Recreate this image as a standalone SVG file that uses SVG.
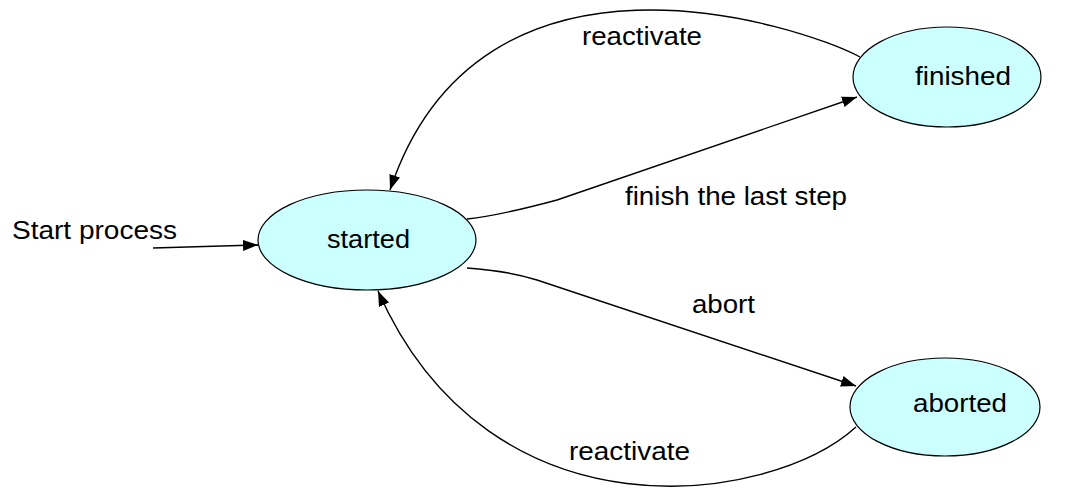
<svg xmlns="http://www.w3.org/2000/svg" width="1074" height="492" viewBox="0 0 1074 492">
<style>
.node{fill:#CCFFFF;stroke:#000;stroke-width:1.2}
.lbl{font-family:"Liberation Sans",Arial,sans-serif;font-size:25px;fill:#000}
.edge{fill:none;stroke:#000;stroke-width:1.4}
</style>
<defs>
<marker id="arr" markerUnits="userSpaceOnUse" markerWidth="16" markerHeight="12" refX="15" refY="5.5" orient="auto">
<path d="M0,0 L15,5.5 L0,11 z" fill="#000"/>
</marker>
</defs>
<rect width="1074" height="492" fill="#fff"/>
<g id="connectors">
<path class="edge" d="M153,248 L258,245" marker-end="url(#arr)"/>
<path class="edge" d="M467,219 C495,216 520,210 557,200 L857,97" marker-end="url(#arr)"/>
<path class="edge" d="M860,57 C800,25 480,-80 390,190" marker-end="url(#arr)"/>
<path class="edge" d="M467,268 C495,270 515,273 537,280 L856,386" marker-end="url(#arr)"/>
<path class="edge" d="M856,427 C770,505 490,545 378,291" marker-end="url(#arr)"/>
<text class="lbl" x="12" y="239" textLength="165" lengthAdjust="spacingAndGlyphs">Start process</text>
<text class="lbl" x="625" y="205" textLength="222" lengthAdjust="spacingAndGlyphs">finish the last step</text>
<text class="lbl" x="582" y="45" textLength="120" lengthAdjust="spacingAndGlyphs">reactivate</text>
<text class="lbl" x="692" y="313" textLength="63" lengthAdjust="spacingAndGlyphs">abort</text>
<text class="lbl" x="569" y="460" textLength="121" lengthAdjust="spacingAndGlyphs">reactivate</text>
</g>
<g id="started">
<ellipse class="node" cx="367" cy="240" rx="109" ry="50"/>
<text class="lbl" x="327" y="248" textLength="83" lengthAdjust="spacingAndGlyphs">started</text>
</g>
<g id="finished">
<ellipse class="node" cx="947" cy="77" rx="94" ry="50"/>
<text class="lbl" x="915" y="85" textLength="96" lengthAdjust="spacingAndGlyphs">finished</text>
</g>
<g id="aborted">
<ellipse class="node" cx="945" cy="407" rx="95" ry="49"/>
<text class="lbl" x="913" y="412" textLength="94" lengthAdjust="spacingAndGlyphs">aborted</text>
</g>
</svg>
